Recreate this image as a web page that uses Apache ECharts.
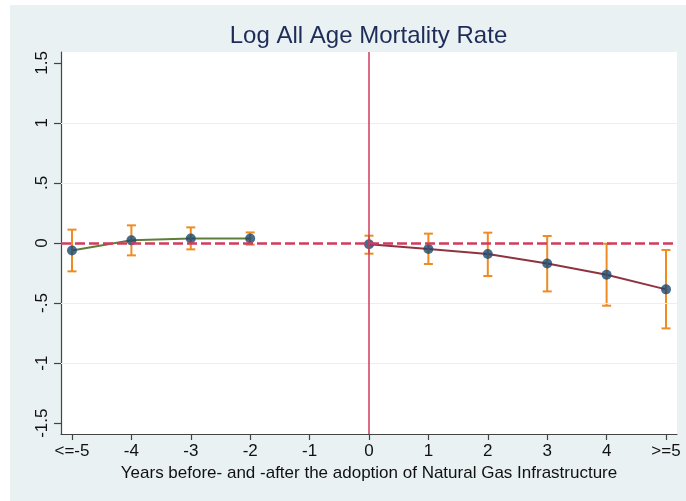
<!DOCTYPE html>
<html>
<head>
<meta charset="utf-8">
<script src="https://cdn.jsdelivr.net/npm/echarts@6/dist/echarts.min.js"></script>
<style>
html,body{margin:0;padding:0;background:#ffffff;}
#chart{width:686px;height:501px;}
</style>
</head>
<body>
<div id="chart"></div>
<script>
// ---- data ----
const titleText = 'Log All Age Mortality Rate';
const xAxisTitle = 'Years before- and -after the adoption of Natural Gas Infrastructure';
const xTicks = [-5, -4, -3, -2, -1, 0, 1, 2, 3, 4, 5];
const xTickLabels = ['<=-5', '-4', '-3', '-2', '-1', '0', '1', '2', '3', '4', '>=5'];
const yTicks = [-1.5, -1, -0.5, 0, 0.5, 1, 1.5];
const yTickLabels = ['-1.5', '-1', '-.5', '0', '.5', '1', '1.5'];
const yGridValues = [-1, -0.5, 0.5, 1];

const preYears = [-5, -4, -3, -2];
const preCoef = [-0.062, 0.022, 0.038, 0.038];
const preLow = [-0.236, -0.103, -0.053, -0.014];
const preHigh = [0.111, 0.147, 0.130, 0.088];

const postYears = [0, 1, 2, 3, 4, 5];
const postCoef = [-0.011, -0.050, -0.092, -0.170, -0.264, -0.386];
const postLow = [-0.089, -0.175, -0.275, -0.403, -0.522, -0.711];
const postHigh = [0.061, 0.078, 0.086, 0.058, -0.006, -0.058];

// ---- build ----
const FONT = '"Liberation Sans", Arial, Helvetica, sans-serif';
const pts = (xs, ys) => xs.map((x, i) => [x, ys[i]]);
const bars = (xs, lo, hi) => xs.map((x, i) => [x, lo[i], hi[i]]);
const allBars = bars(preYears, preLow, preHigh).concat(bars(postYears, postLow, postHigh));
const allPts = pts(preYears, preCoef).concat(pts(postYears, postCoef));

const chart = echarts.init(document.getElementById('chart'), null, {renderer: 'canvas'});
chart.setOption({
  animation: false,
  backgroundColor: '#ffffff',
  graphic: [
    {type: 'rect', z: -100, silent: true, shape: {x: 10, y: 5, width: 676, height: 496}, style: {fill: '#e9f1f3'}},
    {type: 'text', z: 10, silent: true, style: {text: titleText, x: 368.5, y: 36, textAlign: 'center', textVerticalAlign: 'middle', font: '24px ' + FONT, fill: '#1e2c58'}}
  ],
  grid: {left: 61, top: 52, right: 9, bottom: 67, show: true, backgroundColor: '#ffffff', borderWidth: 0},
  xAxis: {
    type: 'value', min: -5.185, max: 5.185,
    name: xAxisTitle, nameLocation: 'middle', nameGap: 28,
    nameTextStyle: {fontFamily: FONT, fontSize: 17, color: '#111'},
    axisLine: {show: true, onZero: false, lineStyle: {color: '#444', width: 1.2}},
    axisTick: {show: true, length: 6, customValues: xTicks, lineStyle: {color: '#444', width: 1.2}},
    axisLabel: {customValues: xTicks, margin: 9, fontFamily: FONT, fontSize: 17, color: '#111',
      formatter: v => xTickLabels[xTicks.indexOf(Math.round(v))]},
    splitLine: {show: false}
  },
  yAxis: {
    type: 'value', min: -1.59, max: 1.59,
    axisLine: {show: true, onZero: false, lineStyle: {color: '#444', width: 1.2}},
    axisTick: {show: true, length: 7, customValues: yTicks, lineStyle: {color: '#444', width: 1.2}},
    axisLabel: {customValues: yTicks, rotate: 90, margin: 10, fontFamily: FONT, fontSize: 17, color: '#111',
      formatter: v => yTickLabels[yTicks.findIndex(t => Math.abs(t - v) < 1e-6)]},
    splitLine: {show: false}
  },
  series: [
    {
      type: 'line', data: [], z: 1, silent: true,
      markLine: {
        silent: true, symbol: 'none', animation: false, label: {show: false},
        data: yGridValues.map(v => ({yAxis: v, lineStyle: {color: '#eaf0f1', width: 1, type: 'solid'}}))
          .concat([
            {yAxis: 0, lineStyle: {color: '#d13b5e', width: 2.5, type: [10, 4]}},
            {xAxis: 0, lineStyle: {color: '#d13b5e', width: 1.5, type: 'solid'}}
          ])
      }
    },
    {type: 'line', data: pts(preYears, preCoef), z: 2, showSymbol: false, silent: true,
      lineStyle: {color: '#5e7d38', width: 2}},
    {type: 'line', data: pts(postYears, postCoef), z: 2, showSymbol: false, silent: true,
      lineStyle: {color: '#8e3340', width: 2}},
    {
      type: 'custom', z: 3, silent: true, data: allBars,
      encode: {x: 0, y: [1, 2]},
      renderItem: function (params, api) {
        const x = api.value(0);
        const pLo = api.coord([x, api.value(1)]);
        const pHi = api.coord([x, api.value(2)]);
        const w = 4.5;
        const st = {stroke: '#ee8c22', lineWidth: 2};
        return {type: 'group', children: [
          {type: 'line', shape: {x1: pLo[0], y1: pLo[1], x2: pHi[0], y2: pHi[1]}, style: st},
          {type: 'line', shape: {x1: pLo[0] - w, y1: pLo[1], x2: pLo[0] + w, y2: pLo[1]}, style: st},
          {type: 'line', shape: {x1: pHi[0] - w, y1: pHi[1], x2: pHi[0] + w, y2: pHi[1]}, style: st}
        ]};
      }
    },
    {type: 'scatter', z: 4, silent: true, data: allPts, symbol: 'circle', symbolSize: 10,
      itemStyle: {color: '#1a476f'}}
  ]
});
</script>
</body>
</html>
